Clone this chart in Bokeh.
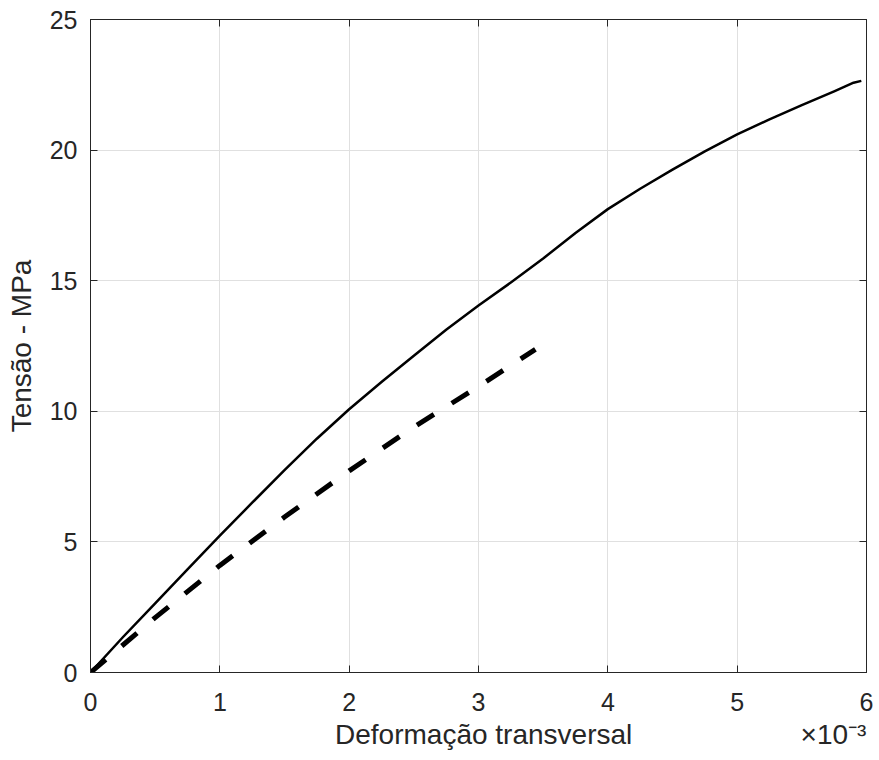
from bokeh.plotting import figure
from bokeh.models import FixedTicker, LinearAxis, Range1d, CustomJSTickFormatter
from bokeh.embed import file_html
from bokeh.resources import INLINE

# Data (strain in units of 1e-3, stress in MPa)
solid_strain = [0, 0.25, 0.5, 0.75, 1.0, 1.25, 1.5, 1.75, 2.0, 2.25, 2.5, 2.75, 3.0,
                3.25, 3.5, 3.75, 4.0, 4.25, 4.5, 4.75, 5.0, 5.25, 5.5, 5.75, 5.9, 5.96]
solid_stress = [0, 1.35, 2.65, 3.95, 5.24, 6.5, 7.75, 8.95, 10.08, 11.12, 12.13, 13.12, 14.05,
                14.93, 15.85, 16.83, 17.74, 18.52, 19.25, 19.95, 20.6, 21.18, 21.72, 22.25, 22.58, 22.65]
dashed_strain = [0, 0.5, 1.0, 1.5, 2.0, 2.5, 3.0, 3.44]
dashed_stress = [0, 2.1, 4.1, 5.95, 7.72, 9.4, 10.95, 12.37]
x_ticks = [0, 1, 2, 3, 4, 5, 6]
y_ticks = [0, 5, 10, 15, 20, 25]
x_label = "Deformação transversal"
y_label = "Tensão - MPa"
x_multiplier = "×10⁻³"

FONT = "Liberation Sans"
AX = "#262626"

p = figure(width=879, height=760, output_backend="svg", toolbar_location=None,
           x_range=Range1d(0, 6), y_range=Range1d(0, 25),
           min_border_left=90, min_border_right=13, min_border_top=19, min_border_bottom=88,
           background_fill_color="white", border_fill_color="white")
p.outline_line_color = AX
p.outline_line_width = 1

for ax in (p.xaxis[0], p.yaxis[0]):
    ax.axis_line_color = AX
    ax.major_tick_line_color = AX
    ax.major_tick_in = 7
    ax.major_tick_out = 0
    ax.minor_tick_line_color = None
    ax.major_label_text_font = FONT
    ax.major_label_text_font_size = "25px"
    ax.major_label_text_color = AX
    ax.axis_label_text_font = FONT
    ax.axis_label_text_font_size = "28px"
    ax.axis_label_text_font_style = "normal"
    ax.axis_label_text_color = AX

p.xaxis.ticker = FixedTicker(ticks=x_ticks)
p.yaxis.ticker = FixedTicker(ticks=y_ticks)
p.yaxis.axis_label = y_label
p.xaxis.major_label_standoff = 20
p.yaxis.major_label_standoff = 13
p.yaxis.axis_label_standoff = 10

# Second row below the x axis: axis title centred and the x10^-3 multiplier at the right
label_axis = LinearAxis(
    ticker=FixedTicker(ticks=[3.04, 5.745]),
    formatter=CustomJSTickFormatter(
        args=dict(a=x_label, b=x_multiplier),
        code="return tick < 4 ? a : b;"),
    axis_line_color=None, major_tick_line_color=None, minor_tick_line_color=None,
    major_label_text_font=FONT, major_label_text_font_size="28px",
    major_label_text_color=AX, major_label_standoff=-1)
p.add_layout(label_axis, "below")

for loc in ("above", "right"):
    a = LinearAxis(ticker=FixedTicker(ticks=x_ticks if loc == "above" else y_ticks),
                   major_label_text_font_size="8px", major_label_text_color=None,
                   major_label_standoff=0,
                   axis_line_color=AX, major_tick_line_color=AX,
                   major_tick_in=7, major_tick_out=0, minor_tick_line_color=None)
    p.add_layout(a, loc)

p.xgrid.ticker = FixedTicker(ticks=x_ticks)
p.ygrid.ticker = FixedTicker(ticks=y_ticks)
p.grid.grid_line_color = "#e0e0e0"
p.grid.grid_line_width = 1

p.line(solid_strain, solid_stress, line_color="black", line_width=2.5, line_join="round")
p.line(dashed_strain, dashed_stress, line_color="black", line_width=5,
       line_dash="20 21", line_cap="butt")

open("out.html", "w").write(file_html(p, INLINE))
